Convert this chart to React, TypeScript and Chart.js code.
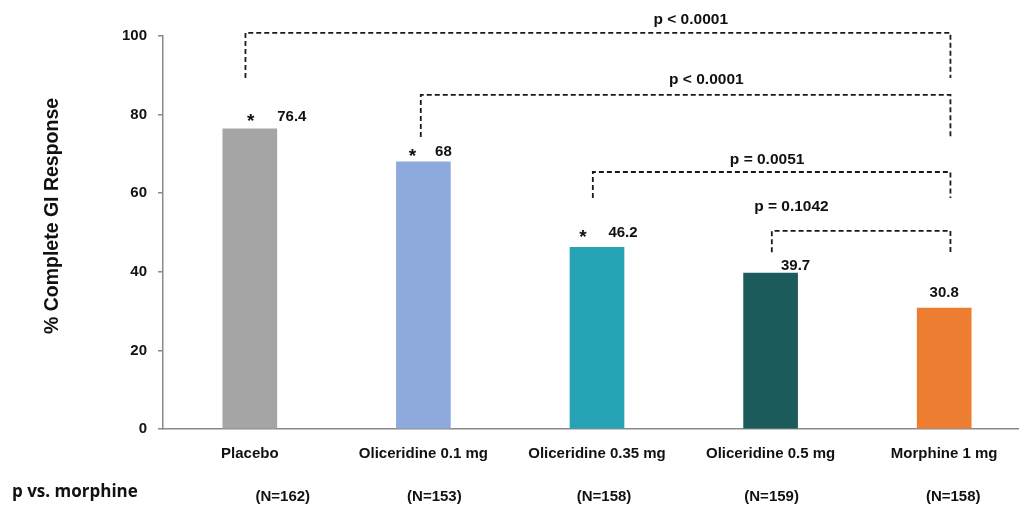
import React, { useEffect, useRef } from "react";
import { Chart, registerables } from "chart.js";

Chart.register(...registerables);

// ---- data ----
const categories = ["Placebo", "Oliceridine 0.1 mg", "Oliceridine 0.35 mg", "Oliceridine 0.5 mg", "Morphine 1 mg"];
const responseValues = [76.4, 68, 46.2, 39.7, 30.8];
const significantVsPlacebo = [true, true, true, false, false];
const sampleSizes = ["(N=162)", "(N=153)", "(N=158)", "(N=159)", "(N=158)"];
const yTicks = [0, 20, 40, 60, 80, 100];
const comparisonLabels = ["p < 0.0001", "p < 0.0001", "p = 0.0051", "p = 0.1042"];
const comparisonFrom = [0, 1, 2, 3];
const comparisonTo = [4, 4, 4, 4];
const rowLabel = "p vs. morphine";
const yTitle = "% Complete GI Response";

// ---- styles / layout ----
const barColors = ["#A5A5A5", "#8EA9DB", "#26A3B5", "#1B5B5B", "#ED7D31"];
const FONT = "'Liberation Sans', Arial, sans-serif";
const valueDx = [42, 20, 26, 25, 0];
const valueDy = [-12, -10, -15, -7, -15];
const starDx = [1, -11, -14, 0, 0];
const nDx = [33, 11, 7, 1, 9];
// bracket geometry (in category-index / value units)
const bracketLeft = [-0.025, 0.985, 1.976, 3.007];
const bracketRight = [4.036, 4.036, 4.036, 4.036];
const bracketTop = [100.8, 85.0, 65.4, 50.4];
const bracketLeftBottom = [89.3, 74.3, 58.8, 45.0];
const bracketRightBottom = [89.3, 74.3, 58.8, 45.0];
const bracketLabelX = [2.54, 2.63, 2.98, 3.12];
const bracketLabelY = [104.1, 88.8, 68.4, 56.5];

const annotations = {
  id: "annotations",
  afterDatasetsDraw(chart: any) {
    const ctx = chart.ctx;
    const xs = chart.scales.x;
    const ys = chart.scales.y;
    const p0 = xs.getPixelForValue(0);
    const step = xs.getPixelForValue(1) - p0;
    const px = (i: number) => p0 + i * step;
    ctx.save();
    ctx.fillStyle = "#111";
    ctx.textAlign = "center";
    ctx.textBaseline = "middle";
    // bar value labels and stars
    responseValues.forEach((v, i) => {
      const cx = px(i);
      const top = ys.getPixelForValue(v);
      ctx.font = `bold 15px ${FONT}`;
      ctx.fillText(String(v), cx + valueDx[i], top + valueDy[i]);
      if (significantVsPlacebo[i]) {
        ctx.font = `bold 19px ${FONT}`;
        ctx.fillText("*", cx + starDx[i], top + valueDy[i] + 5);
      }
    });
    // N labels
    ctx.font = `bold 15px ${FONT}`;
    sampleSizes.forEach((t, i) => {
      ctx.fillText(t, px(i) + nDx[i], 497);
    });
    // brackets
    ctx.strokeStyle = "#1a1a1a";
    ctx.lineWidth = 1.8;
    ctx.setLineDash([5, 3]);
    comparisonLabels.forEach((lab, k) => {
      const xl = px(bracketLeft[k]);
      const xr = px(bracketRight[k]);
      const yt = ys.getPixelForValue(bracketTop[k]);
      ctx.beginPath();
      ctx.moveTo(xl, ys.getPixelForValue(bracketLeftBottom[k]));
      ctx.lineTo(xl, yt);
      ctx.lineTo(xr, yt);
      ctx.lineTo(xr, ys.getPixelForValue(bracketRightBottom[k]));
      ctx.stroke();
    });
    ctx.setLineDash([]);
    ctx.font = `bold 15.5px ${FONT}`;
    comparisonLabels.forEach((lab, k) => {
      ctx.fillText(lab, px(bracketLabelX[k]), ys.getPixelForValue(bracketLabelY[k]));
    });
    // row label
    ctx.textAlign = "left";
    ctx.font = `bold 17px 'Open Sans', 'Noto Sans', sans-serif`;
    ctx.fillText(rowLabel, 12, 492);
    // y title
    ctx.translate(53, 216);
    ctx.rotate(-Math.PI / 2);
    ctx.textAlign = "center";
    ctx.font = `bold 19.5px ${FONT}`;
    ctx.fillText(yTitle, 0, 0);
    ctx.restore();
  },
};

export default function App() {
  const ref = useRef<HTMLCanvasElement>(null);
  useEffect(() => {
    if (!ref.current) return;
    const chart = new Chart(ref.current, {
      type: "bar",
      data: {
        labels: categories,
        datasets: [
          {
            data: responseValues,
            backgroundColor: barColors,
            borderWidth: 0,
            barThickness: 54,
          },
        ],
      },
      options: {
        responsive: false,
        animation: false,
        devicePixelRatio: 1,
        layout: { padding: { top: 36, right: 9, bottom: 0, left: 0 } },
        plugins: { legend: { display: false }, tooltip: { enabled: false } },
        scales: {
          x: {
            grid: { display: false, drawTicks: false },
            border: { display: true, color: "#8a8a8a", width: 1.5 },
            ticks: {
              color: "#111",
              font: { family: FONT, size: 15, weight: "bold" },
              padding: 16,
              maxRotation: 0,
              autoSkip: false,
            },
            afterFit(scale: any) {
              scale.height = 76;
            },
          },
          y: {
            min: 0,
            max: 100,
            afterBuildTicks(scale: any) {
              scale.ticks = yTicks.map((v) => ({ value: v }));
            },
            grid: { display: true, drawOnChartArea: false, tickLength: 5, color: "#8a8a8a", lineWidth: 1.5 },
            border: { display: true, color: "#8a8a8a", width: 1.5 },
            ticks: {
              color: "#111",
              font: { family: FONT, size: 15, weight: "bold" },
              padding: 11,
            },
            afterFit(scale: any) {
              scale.width = 163;
            },
          },
        },
      },
      plugins: [annotations],
    });
    return () => chart.destroy();
  }, []);
  return (
    <div style={{ position: "fixed", left: 0, top: 0, width: 1019, height: 505, overflow: "hidden", background: "#fff" }}>
      <canvas ref={ref} width={1040} height={505} style={{ display: "block", width: 1040, height: 505 }} />
    </div>
  );
}
